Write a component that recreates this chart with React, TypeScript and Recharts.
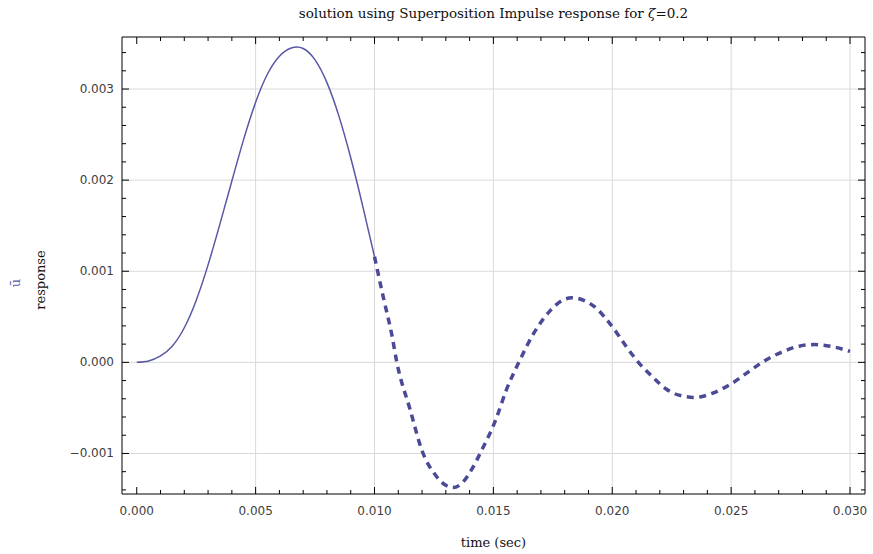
import React from "react";
import { LineChart, Line, XAxis, YAxis, ReferenceLine } from "recharts";

// time in milliseconds, response in units of 1e-3
const solidTms = [0, 0.5, 1.0, 1.5, 2.0, 2.5, 3.0, 3.5, 4.0, 4.5, 5.0, 5.5, 6.0, 6.5, 7.0, 7.5, 8.0, 8.5, 9.0, 9.5, 10.0];
const solidVal = [0, 0.015, 0.07, 0.18, 0.38, 0.68, 1.07, 1.52, 1.99, 2.45, 2.855, 3.165, 3.36, 3.45, 3.445, 3.32, 3.07, 2.705, 2.245, 1.72, 1.16];

const dashedTms = [10.0, 10.4, 10.73, 10.94, 11.5, 12.0, 12.6, 13.0, 13.3, 13.7, 14.1, 14.5, 15.1, 15.55, 16.07, 16.7, 17.4, 17.9, 18.3, 18.8, 19.35, 19.7, 20.2, 20.6, 21.1, 21.7, 22.25, 22.8, 23.5, 24.2, 24.85, 25.75, 26.3, 27.2, 27.9, 28.5, 29.2, 30.0];
const dashedVal = [1.16, 0.68, 0.3, 0.0, -0.52, -0.97, -1.25, -1.35, -1.375, -1.32, -1.17, -0.97, -0.63, -0.3, 0.0, 0.32, 0.57, 0.68, 0.71, 0.68, 0.59, 0.49, 0.32, 0.17, 0.0, -0.16, -0.29, -0.36, -0.385, -0.34, -0.26, -0.1, 0.0, 0.12, 0.18, 0.195, 0.175, 0.12];

const xMajor = [0, 0.005, 0.01, 0.015, 0.02, 0.025, 0.03];
const xMajorLabels = ["0.000", "0.005", "0.010", "0.015", "0.020", "0.025", "0.030"];
const yMajor = [-0.001, 0, 0.001, 0.002, 0.003];
const yMajorLabels = ["\u22120.001", "0.000", "0.001", "0.002", "0.003"];
const xGrid = [0.005, 0.01, 0.015, 0.02, 0.025, 0.03];

const xDomain = [-0.00062, 0.03063];
const yDomain = [-0.001445, 0.003571];

const xTicks = Array.from({ length: 31 }, (_, i) => +(i * 0.001).toFixed(4));
const yTicks = Array.from({ length: 25 }, (_, i) => +(-0.0014 + i * 0.0002).toFixed(5));

const solidData = solidTms.map((t, i) => ({ t: t / 1000, v: solidVal[i] / 1000 }));
const dashedData = dashedTms.map((t, i) => ({ t: t / 1000, v: dashedVal[i] / 1000 }));

const majorIndex = (arr: number[], v: number) => arr.findIndex((m) => Math.abs(m - v) < 1e-8);

const tickFont = { fontFamily: "DejaVu Sans", fontSize: 12, fill: "#404040" };

const BottomTick = (props: any) => {
  const { x, y, payload } = props;
  const idx = majorIndex(xMajor, payload.value);
  const len = idx >= 0 ? 7 : 4;
  return (
    <g>
      <line x1={x} y1={y} x2={x} y2={y - len} stroke="#000" strokeWidth={1} />
      {idx >= 0 && (
        <text x={x} y={y + 21} textAnchor="middle" {...tickFont}>
          {xMajorLabels[idx]}
        </text>
      )}
    </g>
  );
};

const TopTick = (props: any) => {
  const { x, y, payload } = props;
  const idx = majorIndex(xMajor, payload.value);
  const len = idx >= 0 ? 7 : 4;
  return <line x1={x} y1={y} x2={x} y2={y + len} stroke="#000" strokeWidth={1} />;
};

const LeftTick = (props: any) => {
  const { x, y, payload } = props;
  const idx = majorIndex(yMajor, payload.value);
  const len = idx >= 0 ? 7 : 4;
  return (
    <g>
      <line x1={x} y1={y} x2={x + len} y2={y} stroke="#000" strokeWidth={1} />
      {idx >= 0 && (
        <text x={x - 8} y={y + 4} textAnchor="end" {...tickFont}>
          {yMajorLabels[idx]}
        </text>
      )}
    </g>
  );
};

const RightTick = (props: any) => {
  const { x, y, payload } = props;
  const idx = majorIndex(yMajor, payload.value);
  const len = idx >= 0 ? 7 : 4;
  return <line x1={x} y1={y} x2={x - len} y2={y} stroke="#000" strokeWidth={1} />;
};

const serif = "'DejaVu Serif', serif";

export default function App() {
  return (
    <div style={{ position: "absolute", left: 0, top: 0, width: 873, height: 554, background: "#fff" }}>
      <LineChart
        width={873}
        height={554}
        margin={{ top: 27, right: 6, bottom: 20, left: 62 }}
      >
        <XAxis
          xAxisId={0}
          dataKey="t"
          type="number"
          domain={xDomain}
          allowDataOverflow
          ticks={xTicks}
          interval={0}
          tickSize={0}
          tickMargin={0}
          tickLine={false}
          tick={<BottomTick />}
          axisLine={{ stroke: "#000", strokeWidth: 1 }}
          height={40}
        />
        <XAxis
          xAxisId="top"
          orientation="top"
          dataKey="t"
          type="number"
          domain={xDomain}
          allowDataOverflow
          ticks={xTicks}
          interval={0}
          tickSize={0}
          tickMargin={0}
          tickLine={false}
          tick={<TopTick />}
          axisLine={{ stroke: "#000", strokeWidth: 1 }}
          height={10}
        />
        <YAxis
          yAxisId={0}
          type="number"
          domain={yDomain}
          allowDataOverflow
          ticks={yTicks}
          interval={0}
          tickSize={0}
          tickMargin={0}
          tickLine={false}
          tick={<LeftTick />}
          axisLine={{ stroke: "#000", strokeWidth: 1 }}
          width={60}
        />
        <YAxis
          yAxisId="right"
          orientation="right"
          type="number"
          domain={yDomain}
          allowDataOverflow
          ticks={yTicks}
          interval={0}
          tickSize={0}
          tickMargin={0}
          tickLine={false}
          tick={<RightTick />}
          axisLine={{ stroke: "#000", strokeWidth: 1 }}
          width={2}
        />
        {xGrid.map((v) => (
          <ReferenceLine key={"gx" + v} x={v} stroke="#d9d9d9" strokeWidth={1} />
        ))}
        {yMajor.map((v) => (
          <ReferenceLine key={"gy" + v} y={v} stroke="#d9d9d9" strokeWidth={1} />
        ))}
        <Line
          data={solidData}
          dataKey="v"
          type="natural"
          stroke="#5858a6"
          strokeWidth={1.5}
          dot={false}
          activeDot={false}
          isAnimationActive={false}
        />
        <Line
          data={dashedData}
          dataKey="v"
          type="monotone"
          stroke="#4a4a96"
          strokeWidth={3.5}
          strokeDasharray="7 5.5"
          dot={false}
          activeDot={false}
          isAnimationActive={false}
        />
      </LineChart>
      <div
        style={{
          position: "absolute",
          left: 122,
          width: 743,
          top: 5,
          textAlign: "center",
          fontFamily: serif,
          fontSize: 13.5,
          color: "#111",
          whiteSpace: "nowrap",
        }}
      >
        solution using Superposition Impulse response for <i>ζ</i>=0.2
      </div>
      <div
        style={{
          position: "absolute",
          left: 122,
          width: 743,
          top: 535,
          textAlign: "center",
          fontFamily: serif,
          fontSize: 13,
          color: "#111",
          whiteSpace: "nowrap",
        }}
      >
        time (sec)
      </div>
      <div
        style={{
          position: "absolute",
          left: 40,
          top: 280,
          transform: "translate(-50%, -50%) rotate(-90deg)",
          fontFamily: serif,
          fontSize: 13,
          color: "#111",
          whiteSpace: "nowrap",
        }}
      >
        response
      </div>
      <div
        style={{
          position: "absolute",
          left: 15,
          top: 283,
          transform: "translate(-50%, -50%) rotate(-90deg)",
          fontFamily: serif,
          fontSize: 13,
          color: "#5a5ab0",
          whiteSpace: "nowrap",
        }}
      >
        ū
      </div>
    </div>
  );
}
